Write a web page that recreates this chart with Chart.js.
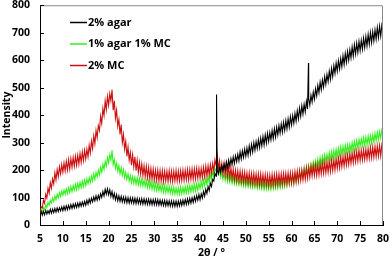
<!DOCTYPE html>
<html>
<head>
<meta charset="utf-8">
<script src="https://cdn.jsdelivr.net/npm/chart.js@4.4.0/dist/chart.umd.min.js"></script>
<style>
  html, body { margin: 0; padding: 0; background: #fff; overflow: hidden; }
  canvas { display: block; }
</style>
</head>
<body>
<canvas id="chart" width="392" height="262"></canvas>
<script>
// sampling grid of the scans: 5° to 80° every 0.25°
const angleStart = 5;
const angleStep = 0.25;

const seriesNames = ['2% agar', '1% agar 1% MC', '2% MC'];
const seriesColors = ['#000000', '#33f01e', '#cc1010'];

// 2% agar
const agar = [
  33, 49, 36, 50, 37, 53, 40, 52, 42, 57,
  43, 58, 45, 60, 47, 62, 49, 63, 51, 66,
  52, 68, 54, 70, 56, 72, 58, 74, 60, 76,
  62, 78, 64, 80, 66, 82, 68, 84, 70, 86,
  72, 90, 76, 94, 80, 98, 84, 102, 88, 106,
  90, 108, 94, 114, 100, 122, 106, 130, 112, 132,
  110, 128, 104, 122, 98, 115, 92, 110, 88, 106,
  86, 104, 84, 102, 82, 101, 81, 100, 80, 99,
  80, 99, 79, 98, 78, 97, 78, 96, 77, 96,
  76, 95, 76, 94, 75, 94, 75, 93, 74, 93,
  74, 93, 73, 92, 72, 91, 72, 90, 71, 90,
  70, 89, 70, 88, 69, 88, 68, 87, 68, 87,
  68, 87, 69, 89, 71, 91, 73, 93, 75, 95,
  77, 97, 79, 99, 82, 103, 86, 107, 90, 111,
  92, 114, 98, 122, 105, 130, 115, 140, 125, 152,
  140, 166, 160, 188, 178, 200, 186, 208, 192, 216,
  198, 222, 204, 230, 208, 236, 214, 242, 220, 248,
  224, 252, 230, 258, 234, 266, 240, 270, 246, 276,
  250, 280, 254, 288, 260, 294, 266, 300, 272, 304,
  278, 310, 282, 316, 288, 322, 292, 328, 298, 334,
  304, 336, 310, 344, 314, 350, 320, 356, 328, 362,
  334, 368, 338, 374, 344, 380, 350, 386, 356, 394,
  364, 398, 370, 406, 378, 416, 386, 426, 396, 434,
  404, 440, 412, 450, 422, 460, 436, 472, 448, 484,
  458, 496, 470, 508, 482, 520, 492, 528, 502, 540,
  512, 548, 522, 560, 530, 570, 540, 580, 552, 590,
  560, 598, 568, 606, 576, 616, 584, 624, 592, 632,
  600, 638, 608, 648, 614, 656, 622, 662, 628, 668,
  634, 672, 640, 680, 646, 686, 652, 694, 658, 700,
  664, 704, 670, 710, 676, 718, 682, 724, 688, 728,
  710
];
// sharp reflections on the 2% agar scan
const agarSpikeAngles = [43.6, 63.7];
const agarSpikeValues = [475, 590];

// 1% agar 1% MC
const blend = [
  40, 54, 46, 64, 55, 74, 64, 82, 72, 90,
  80, 98, 86, 106, 92, 112, 98, 118, 104, 124,
  108, 128, 112, 132, 114, 136, 118, 140, 122, 144,
  126, 148, 128, 152, 132, 156, 136, 160, 140, 164,
  144, 168, 150, 172, 154, 178, 160, 186, 166, 192,
  174, 200, 182, 210, 192, 222, 202, 232, 214, 246,
  226, 256, 236, 272, 220, 238, 206, 226, 196, 216,
  186, 208, 180, 202, 172, 192, 166, 186, 160, 180,
  154, 176, 152, 174, 148, 172, 146, 170, 144, 168,
  142, 164, 140, 162, 136, 160, 134, 158, 130, 154,
  128, 152, 126, 150, 124, 148, 122, 146, 120, 144,
  118, 142, 118, 140, 116, 138, 114, 138, 112, 136,
  112, 136, 112, 138, 114, 138, 114, 140, 116, 142,
  118, 144, 120, 146, 122, 148, 124, 150, 126, 154,
  132, 158, 136, 164, 142, 170, 148, 176, 154, 186,
  164, 192, 176, 206, 196, 216, 186, 200, 174, 192,
  166, 190, 162, 186, 158, 182, 156, 180, 152, 178,
  150, 174, 148, 172, 146, 170, 144, 168, 142, 166,
  140, 166, 140, 164, 138, 162, 136, 162, 136, 160,
  134, 160, 134, 158, 132, 158, 130, 156, 130, 156,
  130, 156, 130, 158, 132, 160, 134, 162, 134, 164,
  136, 164, 138, 168, 140, 170, 144, 174, 148, 178,
  150, 178, 154, 184, 158, 188, 162, 194, 168, 198,
  174, 202, 178, 210, 184, 216, 190, 222, 198, 230,
  206, 234, 210, 240, 214, 246, 220, 250, 226, 256,
  230, 258, 234, 264, 238, 268, 242, 272, 246, 276,
  250, 280, 252, 284, 256, 286, 258, 290, 262, 292,
  266, 294, 268, 300, 272, 304, 276, 308, 280, 312,
  286, 314, 288, 318, 290, 320, 292, 324, 296, 326,
  298, 328, 302, 334, 306, 338, 310, 340, 316, 346,
  335
];

// 2% MC
const mc = [
  44, 66, 62, 90, 80, 112, 98, 134, 116, 154,
  134, 168, 150, 190, 164, 202, 176, 212, 186, 220,
  192, 226, 196, 232, 200, 238, 204, 242, 210, 246,
  214, 250, 218, 254, 222, 260, 228, 266, 234, 272,
  240, 276, 248, 290, 262, 306, 278, 324, 296, 344,
  318, 362, 344, 396, 370, 424, 398, 452, 420, 468,
  436, 478, 452, 492, 418, 452, 388, 418, 360, 384,
  330, 366, 300, 330, 276, 304, 250, 284, 236, 264,
  218, 256, 212, 248, 198, 236, 192, 228, 186, 222,
  180, 216, 176, 214, 172, 210, 168, 206, 166, 204,
  164, 200, 162, 200, 160, 198, 160, 198, 158, 196,
  160, 196, 158, 198, 160, 196, 158, 196, 160, 198,
  160, 196, 160, 198, 162, 200, 162, 200, 164, 202,
  164, 202, 166, 204, 166, 204, 168, 206, 170, 206,
  170, 206, 172, 210, 176, 214, 178, 216, 182, 220,
  188, 224, 196, 238, 218, 252, 204, 234, 192, 224,
  186, 224, 182, 220, 176, 214, 172, 208, 168, 204,
  164, 200, 162, 198, 160, 196, 158, 194, 156, 192,
  154, 190, 152, 190, 152, 188, 150, 188, 150, 186,
  148, 186, 148, 186, 146, 184, 146, 184, 146, 182,
  144, 182, 144, 184, 146, 184, 146, 186, 148, 186,
  148, 186, 148, 188, 150, 188, 150, 190, 152, 190,
  152, 190, 152, 194, 156, 196, 158, 198, 162, 200,
  164, 204, 166, 208, 170, 210, 174, 214, 178, 216,
  180, 218, 180, 220, 182, 224, 186, 226, 188, 228,
  190, 230, 192, 232, 194, 236, 198, 238, 200, 242,
  206, 244, 208, 248, 212, 250, 214, 254, 218, 256,
  220, 260, 224, 262, 226, 266, 230, 268, 232, 272,
  234, 272, 236, 274, 238, 276, 240, 278, 242, 282,
  244, 284, 246, 286, 248, 288, 250, 290, 252, 292,
  272
];

const xTicks = [5, 10, 15, 20, 25, 30, 35, 40, 45, 50, 55, 60, 65, 70, 75, 80];
const yTicks = [0, 100, 200, 300, 400, 500, 600, 700, 800];

function toPoints(values, spikeAngles, spikeValues) {
  const pts = values.map((v, i) => ({ x: angleStart + i * angleStep, y: v }));
  (spikeAngles || []).forEach((a, i) => pts.push({ x: a, y: spikeValues[i] }));
  return pts.sort((p, q) => p.x - q.x);
}

Chart.defaults.font.family = "'Open Sans', sans-serif";
Chart.defaults.font.weight = 'bold';
Chart.defaults.color = '#000';

// box, inner ticks, axis titles and the legend inside the plot
const framePlugin = {
  id: 'frame',
  afterDraw(chart) {
    const { ctx, chartArea: a, scales } = chart;
    ctx.save();
    ctx.lineWidth = 1;
    ctx.strokeStyle = '#8a8a8a';
    ctx.beginPath();
    ctx.moveTo(a.left, a.top + 0.5);
    ctx.lineTo(a.right - 0.5, a.top + 0.5);
    ctx.lineTo(a.right - 0.5, a.bottom);
    ctx.stroke();

    ctx.strokeStyle = '#000';
    ctx.beginPath();
    xTicks.forEach(t => {
      const px = Math.round(scales.x.getPixelForValue(t)) + 0.5;
      ctx.moveTo(px, a.bottom);
      ctx.lineTo(px, a.bottom - 4);
    });
    yTicks.forEach(t => {
      const py = Math.round(scales.y.getPixelForValue(t)) + 0.5;
      ctx.moveTo(a.left, py);
      ctx.lineTo(a.left + 4, py);
    });
    ctx.stroke();

    ctx.fillStyle = '#000';
    ctx.font = "bold 10.5px 'Open Sans', sans-serif";
    ctx.textAlign = 'center';
    ctx.textBaseline = 'middle';
    ctx.fillText('2θ / °', (a.left + a.right) / 2, 253);
    ctx.save();
    ctx.translate(7, (a.top + a.bottom) / 2);
    ctx.rotate(-Math.PI / 2);
    ctx.fillText('Intensity', 0, 0);
    ctx.restore();

    ctx.font = "bold 11px 'Open Sans', sans-serif";
    ctx.textAlign = 'left';
    seriesNames.forEach((name, i) => {
      const y = 22.5 + i * 21.5;
      ctx.strokeStyle = seriesColors[i];
      ctx.lineWidth = 1.5;
      ctx.beginPath();
      ctx.moveTo(70, y);
      ctx.lineTo(87, y);
      ctx.stroke();
      ctx.fillText(name, 88, y);
    });
    ctx.restore();
  }
};

new Chart(document.getElementById('chart'), {
  type: 'line',
  data: {
    datasets: [
      { label: seriesNames[0], data: toPoints(agar, agarSpikeAngles, agarSpikeValues), borderColor: seriesColors[0], order: 0 },
      { label: seriesNames[1], data: toPoints(blend), borderColor: seriesColors[1], order: 2 },
      { label: seriesNames[2], data: toPoints(mc), borderColor: seriesColors[2], order: 1 }
    ]
  },
  options: {
    responsive: false,
    animation: false,
    layout: { padding: { top: 5, right: 9, left: 0, bottom: 0 } },
    elements: {
      point: { radius: 0 },
      line: { borderWidth: 1.1, tension: 0 }
    },
    plugins: {
      legend: { display: false },
      tooltip: { enabled: false }
    },
    scales: {
      x: {
        type: 'linear',
        min: 5,
        max: 80,
        afterBuildTicks: s => { s.ticks = xTicks.map(v => ({ value: v })); },
        afterFit: s => { s.height = 37; },
        grid: { display: true, drawOnChartArea: false, drawTicks: true, tickLength: 9, color: 'rgba(0,0,0,0)' },
        border: { display: true, color: '#000', width: 1 },
        ticks: { padding: 0, font: { size: 10.5, lineHeight: 1 }, maxRotation: 0 }
      },
      y: {
        min: 0,
        max: 800,
        afterBuildTicks: s => { s.ticks = yTicks.map(v => ({ value: v })); },
        afterFit: s => { s.width = 40; },
        grid: { display: true, drawOnChartArea: false, drawTicks: true, tickLength: 10, color: 'rgba(0,0,0,0)' },
        border: { display: true, color: '#000', width: 1 },
        ticks: { padding: 0, font: { size: 10.5, lineHeight: 1 } }
      }
    }
  },
  plugins: [framePlugin]
});
</script>
</body>
</html>
